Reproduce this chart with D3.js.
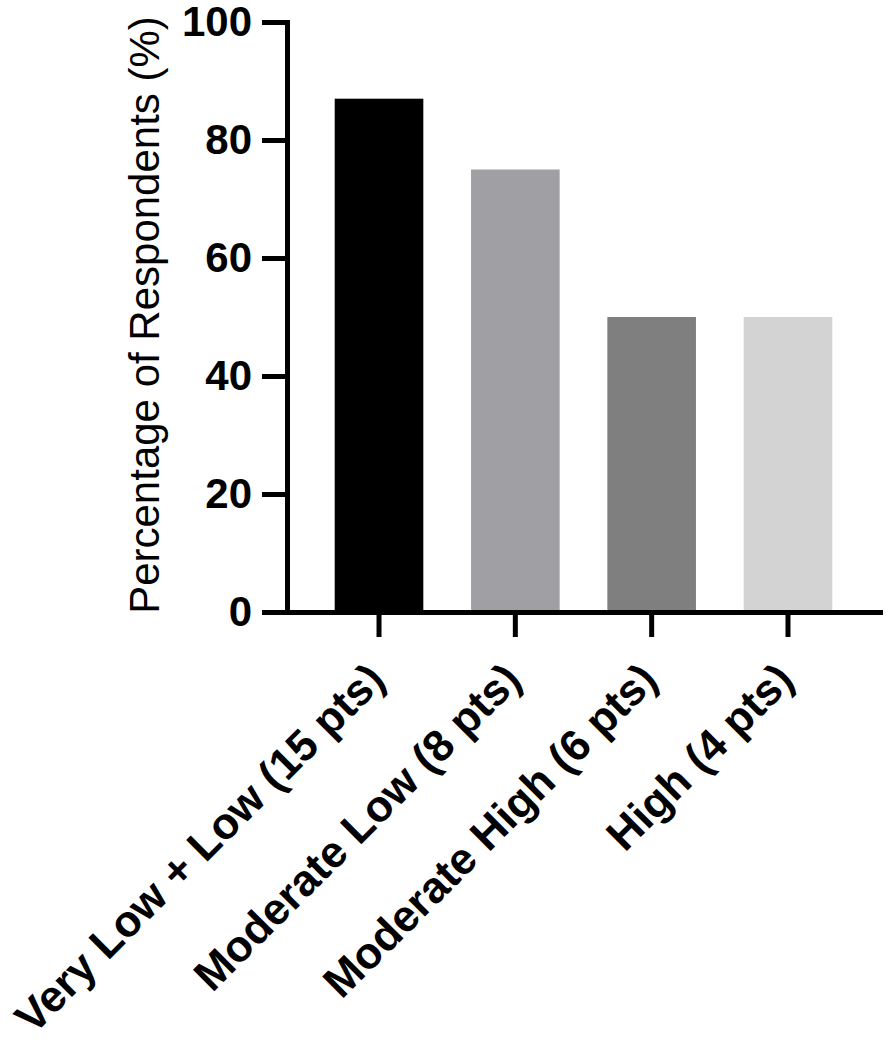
<!DOCTYPE html>
<html>
<head>
<meta charset="utf-8">
<script src="https://cdn.jsdelivr.net/npm/d3@7"></script>
<style>
  body { margin: 0; background: #fff; }
  text { font-family: Arial, "Liberation Sans", Helvetica, sans-serif; fill: #000; }
  .axis path, .axis line { stroke: #000; stroke-width: 5; }
  .axis .domain { stroke-linecap: square; }
</style>
</head>
<body>
<svg width="886" height="1047"></svg>
<script>
var svg = d3.select('svg');

// data
var categories = ['Very Low + Low (15 pts)', 'Moderate Low (8 pts)', 'Moderate High (6 pts)', 'High (4 pts)'];
var values = [87, 75, 50, 50];
var barColors = ['#000000', '#a0a0a4', '#7f7f7f', '#d3d3d3'];
var yTicks = [0, 20, 40, 60, 80, 100];

var plot = {l: 287, r: 880, t: 22, b: 612};

var xScale = d3.scaleBand()
    .domain(categories)
    .range([plot.l, plot.r])
    .paddingInner(0.35)
    .paddingOuter(0.35);

var yScale = d3.scaleLinear()
    .domain([0, 100])
    .range([plot.b, plot.t]);

// bars
svg.selectAll('.bar')
    .data(categories)
    .enter()
    .append('rect')
    .attr('class', 'bar')
    .attr('x', function(d) { return xScale(d); })
    .attr('width', xScale.bandwidth())
    .attr('y', function(d, i) { return yScale(values[i]); })
    .attr('height', function(d, i) { return plot.b - yScale(values[i]); })
    .style('fill', function(d, i) { return barColors[i]; });

// y axis
var yAxis = d3.axisLeft(yScale)
    .tickValues(yTicks)
    .tickSize(25)
    .tickSizeOuter(0)
    .tickPadding(10);

svg.append('g')
    .attr('class', 'y axis')
    .attr('transform', 'translate(' + plot.l + ',0)')
    .call(yAxis)
    .selectAll('text')
    .style('font-size', '42px')
    .style('font-weight', 'bold');

// x axis
var xAxis = d3.axisBottom(xScale)
    .tickSize(25)
    .tickSizeOuter(0);

var xg = svg.append('g')
    .attr('class', 'x axis')
    .attr('transform', 'translate(0,' + plot.b + ')')
    .call(xAxis);

xg.selectAll('text')
    .attr('y', 0)
    .attr('dy', 0)
    .attr('transform', 'translate(8,70) rotate(-45)')
    .style('text-anchor', 'end')
    .style('font-size', '44px')
    .style('font-weight', 'bold');

// y axis label
svg.append('text')
    .attr('class', 'y axis-label')
    .attr('transform', 'translate(159,315) rotate(-90)')
    .attr('text-anchor', 'middle')
    .style('font-size', '42px')
    .text('Percentage of Respondents (%)');
</script>
</body>
</html>
